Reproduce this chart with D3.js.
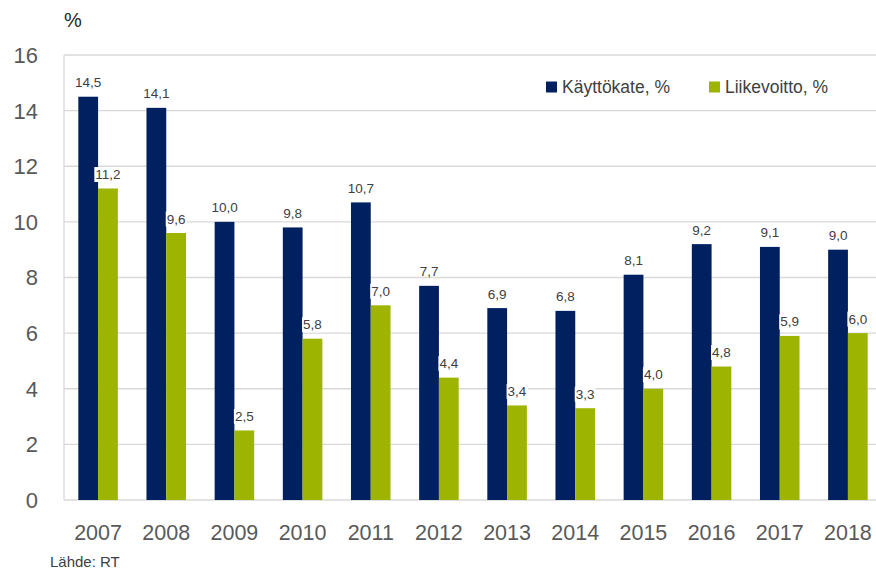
<!DOCTYPE html>
<html><head><meta charset="utf-8">
<script src="https://cdn.jsdelivr.net/npm/d3@7/dist/d3.min.js"></script>
<style>body{margin:0;background:#fff}svg{display:block}</style>
</head><body>
<svg id="c" width="876" height="571"></svg>
<script>
const years = ["2007","2008","2009","2010","2011","2012","2013","2014","2015","2016","2017","2018"];
const kayttokate = [14.5,14.1,10.0,9.8,10.7,7.7,6.9,6.8,8.1,9.2,9.1,9.0];
const liikevoitto = [11.2,9.6,2.5,5.8,7.0,4.4,3.4,3.3,4.0,4.8,5.9,6.0];
const seriesNames = ["Käyttökate, %","Liikevoitto, %"];
const yTicks = [0,2,4,6,8,10,12,14,16];

(function(){
const colors = ["#002060","#9db500"];
const svg = d3.select("#c");
const font = "'Liberation Sans', Arial, sans-serif";
const pLeft = 64, pRight = 882, pTop = 55, pBottom = 500;

const x = d3.scaleBand().domain(years).range([pLeft, pRight]).paddingInner(0.42).paddingOuter(0.21);
const xs = d3.scaleBand().domain([0,1]).range([0, x.bandwidth()]);
const y = d3.scaleLinear().domain([0,16]).range([pBottom, pTop]);

svg.append("g").selectAll("line").data(yTicks).join("line")
  .attr("x1", pLeft).attr("x2", pRight)
  .attr("y1", d=>y(d)).attr("y2", d=>y(d))
  .attr("stroke", "#d9d9d9").attr("stroke-width", 1.3);
svg.append("line").attr("x1", pLeft).attr("x2", pLeft).attr("y1", pTop).attr("y2", pBottom)
  .attr("stroke", "#d9d9d9").attr("stroke-width", 1.3);

svg.append("g").selectAll("text").data(yTicks).join("text")
  .attr("x", 38).attr("y", d=>y(d)).attr("dy","0.36em")
  .attr("text-anchor","end").attr("font-family",font).attr("font-size",22)
  .attr("fill","#595959").text(d=>d);

svg.append("g").selectAll("text").data(years).join("text")
  .attr("x", d=>x(d)+x.bandwidth()/2).attr("y", 532).attr("dy","0.36em")
  .attr("text-anchor","middle").attr("font-family",font).attr("font-size",21.5)
  .attr("fill","#595959").text(d=>d);

const series = [kayttokate, liikevoitto];
series.forEach((vals, si) => {
  const g = svg.append("g");
  g.selectAll("rect").data(vals).join("rect")
    .attr("x", (d,i)=>x(years[i])+xs(si)).attr("width", xs.bandwidth())
    .attr("y", d=>y(d)).attr("height", d=>pBottom-y(d))
    .attr("fill", colors[si]);
});
series.forEach((vals, si) => {
  const g = svg.append("g");
  vals.forEach((d,i)=>{
    const cx = x(years[i])+xs(si)+xs.bandwidth()/2;
    const label = d.toFixed(1).replace(".", ",");
    const t = g.append("text").attr("x", cx).attr("y", y(d)-9.5)
      .attr("text-anchor","middle").attr("font-family",font).attr("font-size",13.5)
      .attr("fill","#404040").text(label);
    if (si===1) {
      const bb = t.node().getBBox();
      g.insert("rect", "text").attr("x", bb.x-1).attr("y", bb.y).attr("width", bb.width+2).attr("height", bb.height)
        .attr("fill","#fff");
    }
  });
});

const leg = [{x:546, name:seriesNames[0], c:colors[0]},{x:709, name:seriesNames[1], c:colors[1]}];
leg.forEach(l=>{
  svg.append("rect").attr("x", l.x).attr("y", 81.5).attr("width", 11).attr("height", 11).attr("fill", l.c);
  svg.append("text").attr("x", l.x+16).attr("y", 87).attr("dy","0.36em")
    .attr("font-family",font).attr("font-size",17.5).attr("fill","#404040").text(l.name);
});

svg.append("text").attr("x", 64).attr("y", 20).attr("dy","0.36em")
  .attr("font-family",font).attr("font-size",20).attr("fill","#262626").text("%");
svg.append("text").attr("x", 50).attr("y", 562).attr("dy","0.36em")
  .attr("font-family",font).attr("font-size",15).attr("fill","#404040").text("Lähde: RT");
})();
</script>
</body></html>
